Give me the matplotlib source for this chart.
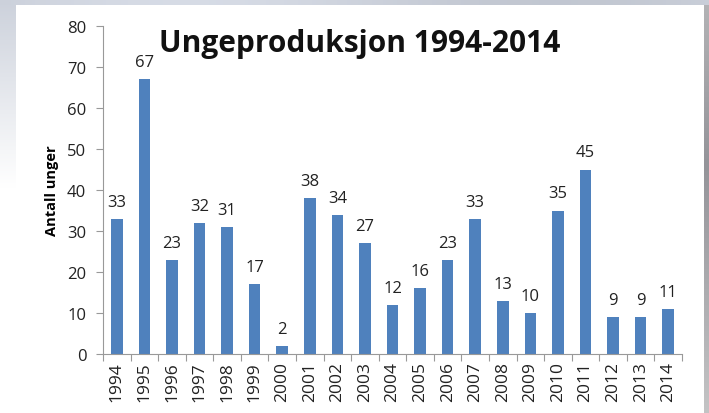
import numpy as np
from matplotlib import pyplot as plt

years = [str(y) for y in range(1994, 2015)]
counts = [33, 67, 23, 32, 31, 17, 2, 38, 34, 27, 12, 16, 23, 33, 13, 10, 35, 45, 9, 9, 11]
yticks = [0, 10, 20, 30, 40, 50, 60, 70, 80]

W, H = 709, 414
fig = plt.figure(figsize=(W / 100, H / 100), dpi=100, facecolor='white')

# backdrop: grey frame around the white slide
bg = fig.add_axes([0, 0, 1, 1])
bg.axis('off')
rows = np.linspace(0, 1, 200)
left_col = np.clip(1 - rows * 2.2, 0, 1)
left_img = np.ones((200, 1, 3))
for i, c in enumerate([0.80, 0.82, 0.86]):
    left_img[:, 0, i] = 1 - (1 - c) * left_col
bg.imshow(left_img, extent=(0, 16, H, 0), aspect='auto')
right_fade = np.clip(1 - np.abs(rows - 0.4) * 1.3, 0, 1)
right_img = np.ones((200, 1, 3))
for i, c in enumerate([0.58, 0.58, 0.60]):
    right_img[:, 0, i] = 0.82 - (0.82 - c) * right_fade
bg.imshow(right_img, extent=(704, W, H, 0), aspect='auto')
top_img = np.ones((1, 200, 3))
cols = np.linspace(0, 1, 200)
for i, c in enumerate([0.80, 0.82, 0.86]):
    top_img[0, :, i] = c + 0.04 * np.sin(cols * 6)
bg.imshow(np.clip(top_img, 0, 1), extent=(0, W, 6, 0), aspect='auto')
bg.set_xlim(0, W)
bg.set_ylim(H, 0)

ax = fig.add_axes([103 / W, 1 - 355 / H, (682 - 103) / W, (355 - 27) / H])
ax.set_facecolor('none')
x = np.arange(len(years))
ax.bar(x, counts, width=0.42, color='#4f81bd')
for xi, v in zip(x, counts):
    ax.text(xi, v + 2.2, str(v), ha='center', va='bottom', fontsize=12,
            family='Open Sans', color='#222222')

ax.set_xlim(-0.5, len(years) - 0.5)
ax.set_ylim(0, 80)
ax.set_yticks(yticks)
ax.set_yticklabels([str(t) for t in yticks], fontsize=12, family='Open Sans', color='#222222')
ax.set_xticks(np.arange(-0.5, len(years), 1.0))
ax.set_xticklabels([])
ax.set_xticks(x, minor=True)
ax.set_xticklabels(years, minor=True, rotation=90, fontsize=12.5, family='Open Sans', color='#222222')
ax.tick_params(axis='x', which='minor', length=0, pad=5)
ax.tick_params(axis='x', which='major', length=5, color='#999999')
ax.tick_params(axis='y', length=5, color='#999999', pad=7)
for s in ['top', 'right']:
    ax.spines[s].set_visible(False)
for s in ['left', 'bottom']:
    ax.spines[s].set_color('#999999')

ax.set_ylabel('Antall unger', fontsize=10.5, fontweight='bold', family='Open Sans', labelpad=6)
fig.text(360 / W, 1 - 44 / H, 'Ungeproduksjon 1994-2014', ha='center', va='center',
         fontsize=21.5, fontweight='bold', family='Open Sans', color='#111111')

fig.savefig('out.png', dpi=100)
